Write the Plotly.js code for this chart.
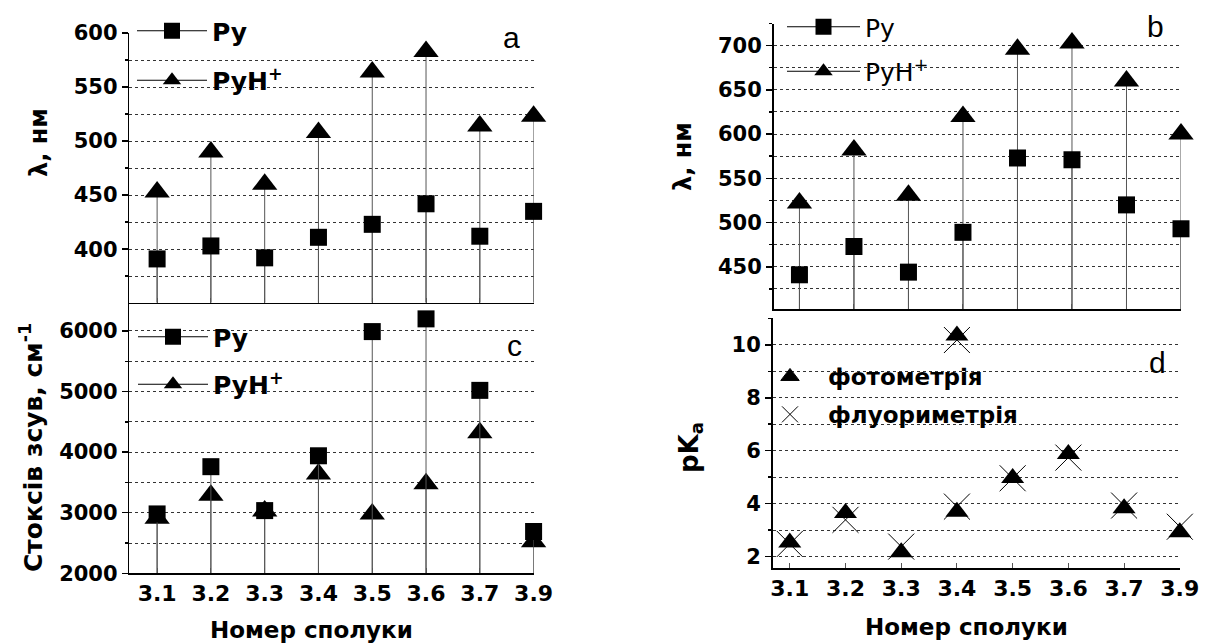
<!DOCTYPE html>
<html><head><meta charset="utf-8">
<script src="https://cdn.plot.ly/plotly-3.0.1.min.js"></script>
<style>body{margin:0;background:#fff}</style>
</head><body><div id="chart" style="width:1217px;height:643px"></div>
<script>
const compounds = ['3.1','3.2','3.3','3.4','3.5','3.6','3.7','3.9'];
const pos = [0,1,2,3,4,5,6,7];
const absPy = [391, 403, 392, 411, 423, 442, 412, 435];
const absPyH = [453, 490, 460, 508, 564, 583, 514, 523];
const emPy = [441, 473, 444, 489, 573, 571, 520, 493];
const emPyH = [522, 582, 531, 620, 696, 703, 660, 600];
const stokesPy = [2980, 3760, 3035, 3940, 5990, 6200, 5020, 2690];
const stokesPyH = [2910, 3290, 3030, 3640, 2980, 3480, 4320, 2520];
const pkaPos = [0,1,2,3,3,4,5,6,7];
const pkaPhoto = [2.53, 3.65, 2.17, 3.70, 10.35, 4.97, 5.88, 3.83, 2.92];
const pkaFluor = [2.48, 3.39, 2.38, 3.89, 10.18, 4.96, 5.74, 3.93, 3.13];

const W = 1217, H = 643;
const px = v => v / W;
const py = v => 1 - v / H;
const F = 'DejaVu Sans, Arial, sans-serif';
const FL = 'Liberation Sans, Arial, sans-serif';

const rangeA = [350.5, 600], rangeB = [402, 725], rangeC = [2000, 6467], rangeD = [1.56, 11];

function stemTrace(xa, ya, y, base, sym, size) {
  return {
    x: pos, y: y, xaxis: xa, yaxis: ya, type: 'scatter', mode: 'markers',
    marker: {symbol: sym, size: size, color: '#000'},
    error_y: {type: 'data', symmetric: false, array: y.map(() => 0),
      arrayminus: y.map(v => v - base), color: '#555', thickness: 1, width: 0},
    cliponaxis: false, showlegend: false, hoverinfo: 'x+y'
  };
}
function legTrace(xa, ya, name, sym, size, leg, grp, withLine) {
  return {
    x: [null], y: [null], xaxis: xa, yaxis: ya, type: 'scatter',
    mode: withLine ? 'lines+markers' : 'markers',
    line: {color: '#000', width: 1},
    marker: withLine ? {symbol: sym, size: size, color: '#000'} : {symbol: sym, size: size, color: '#000', line: {color: '#000', width: 1}},
    name: name, legend: leg, legendgroup: grp, showlegend: true
  };
}

const data = [
  stemTrace('x', 'y', absPyH, rangeA[0], 'triangle-up', 22),
  stemTrace('x', 'y', absPy, rangeA[0], 'square', 17),
  stemTrace('x2', 'y2', emPyH, rangeB[0], 'triangle-up', 22),
  stemTrace('x2', 'y2', emPy, rangeB[0], 'square', 17),
  stemTrace('x3', 'y3', stokesPyH, rangeC[0], 'triangle-up', 22),
  stemTrace('x3', 'y3', stokesPy, rangeC[0], 'square', 17),
  {x: pkaPos, y: pkaPhoto, xaxis: 'x4', yaxis: 'y4', type: 'scatter', mode: 'markers',
   marker: {symbol: 'triangle-up', size: 20, color: '#000'}, cliponaxis: false, showlegend: false},
  {x: pkaPos, y: pkaFluor, xaxis: 'x4', yaxis: 'y4', type: 'scatter', mode: 'markers',
   marker: {symbol: 'x-thin-open', size: 26, color: '#000', line: {color: '#000', width: 1}}, cliponaxis: false, showlegend: false},
  legTrace('x', 'y', 'Py', 'square', 16, 'legend', 'a1', true),
  legTrace('x', 'y', 'PyH<sup>+</sup>', 'triangle-up', 16, 'legend', 'a2', true),
  legTrace('x2', 'y2', 'Py', 'square', 16, 'legend2', 'b1', true),
  legTrace('x2', 'y2', 'PyH<sup>+</sup>', 'triangle-up', 16, 'legend2', 'b2', true),
  legTrace('x3', 'y3', 'Py', 'square', 16, 'legend3', 'c1', true),
  legTrace('x3', 'y3', 'PyH<sup>+</sup>', 'triangle-up', 16, 'legend3', 'c2', true),
  legTrace('x4', 'y4', 'фотометрія', 'triangle-up', 16, 'legend4', 'd1', false),
  legTrace('x4', 'y4', 'флуориметрія', 'x-thin-open', 16, 'legend4', 'd2', false)
];

const grid = {showgrid: true, gridcolor: '#333', griddash: 'dot', gridwidth: 1};
function yax(domain, range, dtick, minorDtick, anchor) {
  return Object.assign({
    domain: domain, range: range, anchor: anchor, dtick: dtick, tick0: 0,
    showline: true, linecolor: '#000', linewidth: 1.5, mirror: false,
    ticks: 'outside', ticklen: 6, tickwidth: 1.5, tickcolor: '#000', zeroline: false,
    tickfont: {family: F, size: 21, color: '#000', weight: 'bold'},
    minor: Object.assign({dtick: minorDtick, ticks: 'outside', ticklen: 3, tickwidth: 1.5, tickcolor: '#000'}, grid)
  }, grid);
}
function xax(domain, range, anchor, labels) {
  return {
    domain: domain, range: range, anchor: anchor, tickmode: 'array', tickvals: pos, ticktext: compounds,
    showticklabels: labels, showline: true, linecolor: '#000', linewidth: 1.5,
    ticks: 'inside', ticklen: 5, tickwidth: 1, tickcolor: '#555',
    showgrid: false, zeroline: false,
    tickfont: {family: F, size: 22, color: '#000', weight: 'bold'}
  };
}

const legBase = {xanchor: 'left', yanchor: 'top', bgcolor: 'rgba(0,0,0,0)', traceorder: 'grouped',
  font: {family: F, size: 25, color: '#000', weight: 'bold'}, itemwidth: 70, tracegroupgap: 12};

function ann(text, x, y, size, opts) {
  return Object.assign({text: text, xref: 'paper', yref: 'paper', x: px(x), y: py(y),
    xanchor: 'center', yanchor: 'middle', showarrow: false,
    font: {family: F, size: size, color: '#000', weight: 'bold'}}, opts || {});
}
const letterFont = {family: FL, size: 30, color: '#000'};

const layout = {
  width: W, height: H, margin: {l: 0, r: 0, t: 0, b: 0},
  paper_bgcolor: '#fff', plot_bgcolor: '#fff', showlegend: true,
  xaxis: xax([px(129.3), px(533.6)], [-0.517, 7], 'y', false),
  yaxis: yax([py(302.7), py(33)], rangeA, 50, 25, 'x'),
  xaxis2: xax([px(773.5), px(1181)], [-0.476, 7], 'y2', false),
  yaxis2: yax([py(309.3), py(23.5)], rangeB, 50, 25, 'x2'),
  xaxis3: xax([px(129.3), px(533.6)], [-0.517, 7], 'y3', true),
  yaxis3: yax([py(573.3), py(302.7)], rangeC, 1000, 500, 'x3'),
  xaxis4: xax([px(772.5), px(1179.8)], [-0.31, 7], 'y4', true),
  yaxis4: yax([py(568.3), py(318.3)], rangeD, 2, 1, 'x4'),
  legend: Object.assign({}, legBase, {x: px(132), y: py(8), tracegroupgap: 14}),
  legend2: Object.assign({}, legBase, {x: px(782), y: py(4), itemwidth: 73, tracegroupgap: 9,
    font: {family: F, size: 25, color: '#000'}}),
  legend3: Object.assign({}, legBase, {x: px(133), y: py(314)}),
  legend4: Object.assign({}, legBase, {x: px(752), y: py(355), itemwidth: 66, tracegroupgap: 5,
    font: {family: F, size: 23, color: '#000', weight: 'bold'}}),
  annotations: [
    ann('λ, нм', 39, 143, 24, {textangle: -90}),
    ann('λ, нм', 683, 157, 24, {textangle: -90}),
    ann('Стоксів зсув, см<sup>-1</sup>', 31, 448, 25, {textangle: -90}),
    ann('pK<sub>a</sub>', 690, 448, 26, {textangle: -90}),
    ann('Номер сполуки', 311, 630, 23),
    ann('Номер сполуки', 966, 627, 23),
    ann('a', 511, 37, 30, {font: letterFont}),
    ann('b', 1155, 27, 30, {font: letterFont}),
    ann('c', 514, 345, 30, {font: letterFont}),
    ann('d', 1157, 362, 30, {font: letterFont})
  ]
};

Plotly.newPlot('chart', data, layout, {displayModeBar: false, staticPlot: true});
</script>
</body></html>
